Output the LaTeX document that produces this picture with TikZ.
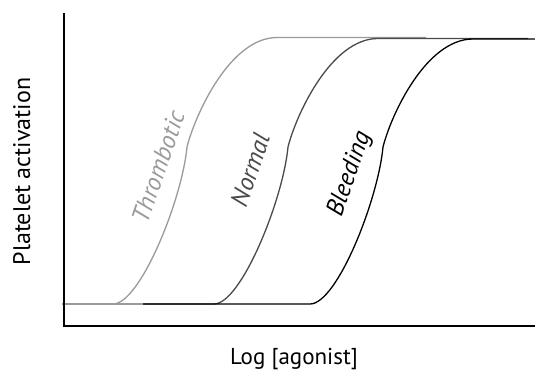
\documentclass[tikz,border=0pt]{standalone}
\usepackage{fontspec}
\setmainfont{PT Sans}
\begin{document}
\begin{tikzpicture}[x=1pt,y=-1pt]
  \tikzstyle{curve}=[line width=1.3pt]
  \tikzstyle{curvetext}=[font=\itshape\fontsize{25}{28}\selectfont,rotate=71,inner sep=0pt]
  \tikzstyle{axistext}=[font=\fontsize{23}{26}\selectfont,inner sep=0pt]
  \definecolor{thrgray}{HTML}{9A9A9A}
  \definecolor{normgray}{HTML}{4A4A4A}
  \useasboundingbox (0,0) rectangle (535,370);
  % dose response curves
  \draw[curve,thrgray] (62,304) -- (143,304);
  \draw[curve,thrgray] (113,304) .. controls (140,304) and (182,200) .. (187,147)
    .. controls (195,115) and (230,37.5) .. (277,37.5) -- (426,37.5);
  \draw[curve,normgray] (143,304) -- (214,304) .. controls (241,304) and (283,200) .. (288,147)
    .. controls (296,115) and (331,38.5) .. (378,38.5) -- (528,38.5);
  \draw[curve,black] (143,304) -- (310,304) .. controls (337,304) and (378,200) .. (383,147)
    .. controls (391,115) and (426,39) .. (473,39) -- (535,39);
  \node[curvetext,thrgray] (thrlabel) at (158,167) {Thrombotic};
  \node[curvetext,normgray] (normlabel) at (250,170) {Normal};
  \node[curvetext,black] (bleedlabel) at (350,174) {Bleeding};
  % axis
  \coordinate (axistop) at (64,13);
  \coordinate (origin) at (64,326);
  \coordinate (axisend) at (535,326);
  \draw[line width=2pt] (axistop) -- (origin) -- (axisend);
  \node[axistext,anchor=base] (xaxislabel) at (294,364) {Log [agonist]};
  \node[axistext,anchor=base,rotate=90,font=\fontsize{24}{26}\selectfont] (yaxislabel) at (30,171.5) {Platelet activation};
\end{tikzpicture}
\end{document}
